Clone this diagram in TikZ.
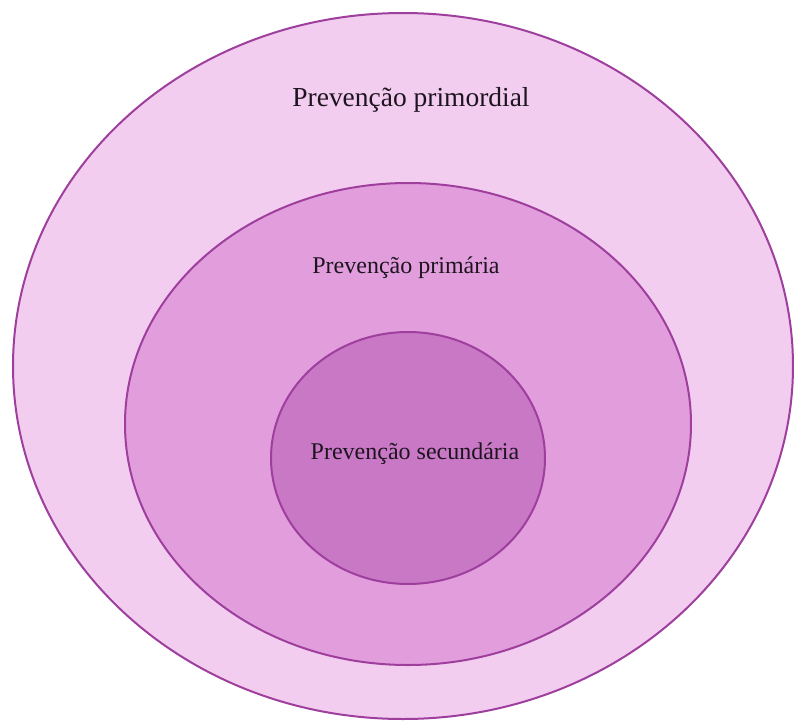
\documentclass[tikz,border=0pt]{standalone}
\usepackage{fontspec}
\setmainfont{Liberation Serif}
\usepackage{xcolor}
\usepackage{tikz}
\usetikzlibrary{shapes.geometric}
\definecolor{ringpurple}{HTML}{9E3F9E}
\definecolor{primordialpink}{HTML}{F2CDEF}
\definecolor{primariapink}{HTML}{E29EDC}
\definecolor{secundariapink}{HTML}{C978C6}
\definecolor{labelink}{HTML}{1E1420}

\tikzset{
  ring/.style={ellipse, draw=ringpurple, line width=1.5pt, inner sep=0pt},
  ringlabel/.style={text=labelink, font=\fontsize{18}{21}\selectfont}
}

\begin{document}
\begin{tikzpicture}[x=0.75pt, y=-0.75pt]
    \useasboundingbox (0,0) rectangle (794,722);
    % nested levels of prevention
    \node[ring, fill=primordialpink, minimum width=585pt, minimum height=529.5pt] (primordial) at (403,366) {};
    \node[ring, fill=primariapink, minimum width=424.5pt, minimum height=361.5pt] (primaria) at (408,424) {};
    \node[ring, fill=secundariapink, minimum width=205.5pt, minimum height=189pt] (secundaria) at (408,458) {};
    % labels
    \node[ringlabel, font=\fontsize{20.6}{24}\selectfont] (primordiallabel) at (411,100) {Prevenção primordial};
    \node[ringlabel] (primarialabel) at (406,268) {Prevenção primária};
    \node[ringlabel] (secundarialabel) at (415,454) {Prevenção secundária};
  \end{tikzpicture}
\end{document}
